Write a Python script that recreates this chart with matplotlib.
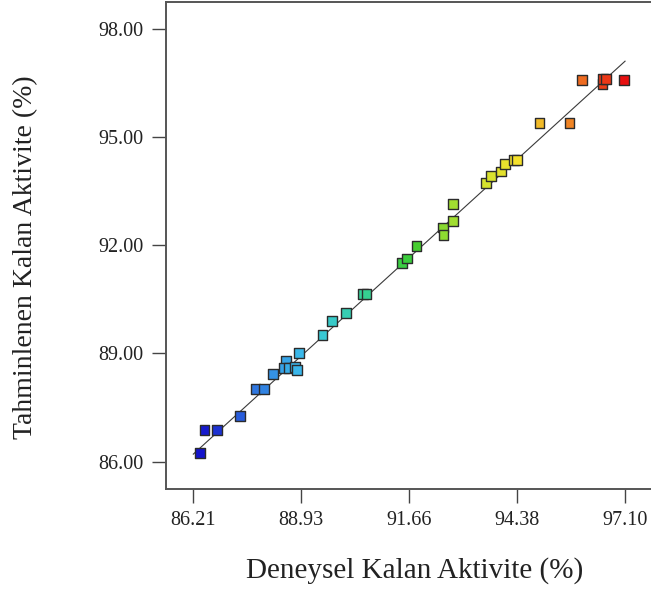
import matplotlib

matplotlib.use("Agg")
import matplotlib.pyplot as plt
from matplotlib.colors import LinearSegmentedColormap, Normalize

plt.rcParams["font.family"] = ["Liberation Serif", "DejaVu Serif"]

# deneysel (actual) vs tahmin (predicted) kalan aktivite, %
actual = [86.37, 86.49, 86.80, 87.39, 87.78, 87.99, 88.23, 88.54, 88.50, 88.63,
          88.77, 88.82, 88.88, 89.47, 89.71, 90.06, 90.50, 90.58, 91.48, 91.59,
          91.84, 92.50, 92.52, 92.75, 92.75, 93.59, 93.72, 93.97, 94.08, 94.30,
          94.38, 94.94, 95.70, 96.02, 96.53, 96.54, 96.61, 97.08]
predicted = [86.23, 86.88, 86.88, 87.27, 88.01, 88.01, 88.42, 88.79, 88.60, 88.60,
             88.63, 88.54, 89.02, 89.51, 89.90, 90.11, 90.64, 90.64, 91.51, 91.63,
             91.98, 92.49, 92.28, 92.68, 93.14, 93.72, 93.92, 94.04, 94.25, 94.36,
             94.36, 95.38, 95.38, 96.58, 96.46, 96.61, 96.60, 96.58]

x_ticks = [86.21, 88.93, 91.66, 94.38, 97.10]
y_ticks = [86.00, 89.00, 92.00, 95.00, 98.00]
fit_line = [86.21, 97.10]

cmap = LinearSegmentedColormap.from_list(
    "de", ["#1414cc", "#2f74e0", "#3cc4ec", "#34d0a0", "#3ccc30",
           "#c0e430", "#f4e02c", "#f08424", "#e81010"])

fig = plt.figure(figsize=(6.51, 5.94), dpi=100)
fig.patch.set_facecolor("white")
ax = fig.add_axes([166 / 651, 1 - 489 / 594, 488 / 651, 487.5 / 594])

ax.plot(fit_line, fit_line, color="#3a3a3a", lw=0.8, zorder=2)
ax.scatter(actual, predicted, c=actual, cmap=cmap,
           norm=Normalize(min(actual), max(actual)),
           marker="s", s=50, edgecolors="#2b2b2b", linewidths=1.0, zorder=3)

ax.set_xlim(85.521, 97.83)
ax.set_ylim(85.243, 98.754)
ax.set_xticks(x_ticks)
ax.set_yticks(y_ticks)
ax.set_xticklabels([f"{v:.2f}" for v in x_ticks])
ax.set_yticklabels([f"{v:.2f}" for v in y_ticks])
ax.tick_params(axis="both", direction="out", length=10, width=1.0,
               color="#444444", labelsize=14.5, labelcolor="#222222", pad=6)

for side in ("left", "bottom", "top"):
    ax.spines[side].set_color("#555555")
    ax.spines[side].set_linewidth(1.4)
ax.spines["right"].set_visible(False)

fig.text(415 / 651, 1 - 571 / 594, "Deneysel Kalan Aktivite (%)", ha="center",
         va="center", fontsize=21, color="#222222")
fig.text(26 / 651, 1 - 257 / 594, "Tahminlenen Kalan Aktivite (%)", ha="center",
         va="center", rotation=90, fontsize=20, color="#222222")

fig.savefig("out.png", dpi=100, facecolor="white")
